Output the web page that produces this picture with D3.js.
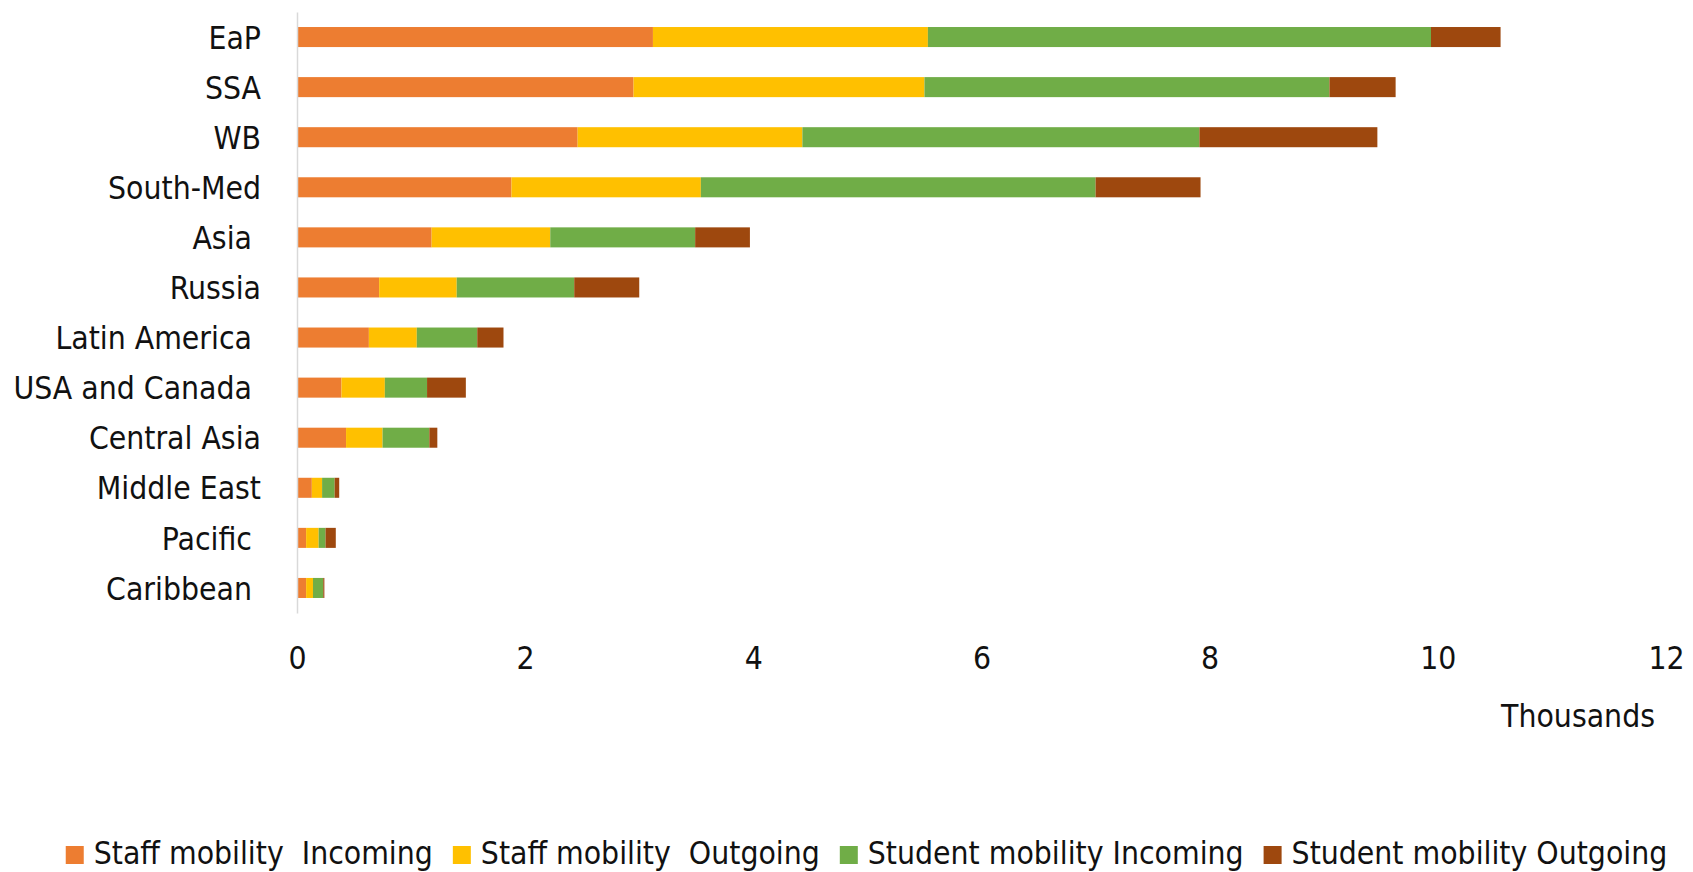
<!DOCTYPE html>
<html>
<head>
<meta charset="utf-8">
<script src="https://cdn.jsdelivr.net/npm/d3@7"></script>
<style>
  html, body { margin: 0; padding: 0; background: #fff; }
  svg text { font-family: 'DejaVu Sans Condensed', 'DejaVu Sans', sans-serif; fill: #111; white-space: pre; }
</style>
</head>
<body>
<svg id="chart" width="1693" height="872"></svg>
<script>
// regions, top to bottom (trailing spaces are in the source labels)
const regions = ['EaP', 'SSA', 'WB', 'South-Med', 'Asia ', 'Russia', 'Latin America ',
  'USA and Canada ', 'Central Asia', 'Middle East', 'Pacific ', 'Caribbean '];

// values in thousands
const staffIncoming = [3.12, 2.95, 2.46, 1.88, 1.18, 0.72, 0.63, 0.39, 0.43, 0.13, 0.08, 0.08];
const staffOutgoing = [2.41, 2.55, 1.97, 1.66, 1.04, 0.68, 0.42, 0.38, 0.32, 0.09, 0.11, 0.06];
const studentIncoming = [4.41, 3.55, 3.48, 3.46, 1.27, 1.03, 0.53, 0.37, 0.41, 0.11, 0.06, 0.09];
const studentOutgoing = [0.61, 0.58, 1.56, 0.92, 0.48, 0.57, 0.23, 0.34, 0.07, 0.04, 0.09, 0.01];

const seriesNames = ['Staff mobility  Incoming', 'Staff mobility  Outgoing',
  'Student mobility Incoming', 'Student mobility Outgoing'];
const seriesColors = ['#ED7D31', '#FFC000', '#70AD47', '#9E480E'];
const xTicks = [0, 2, 4, 6, 8, 10, 12];

const rows = regions.map((region, i) => ({
  region,
  s0: staffIncoming[i],
  s1: staffOutgoing[i],
  s2: studentIncoming[i],
  s3: studentOutgoing[i],
}));
const stack = d3.stack().keys(['s0', 's1', 's2', 's3'])(rows);

const svg = d3.select('#chart');
const fontSize = 31.6;

const x = d3.scaleLinear().domain([0, 12]).range([297, 1666]);
const y = d3.scaleBand()
  .domain(regions)
  .range([12, 613])
  .paddingInner(0.6)
  .paddingOuter(0.3);

// bars
svg.append('g')
  .selectAll('g')
  .data(stack)
  .join('g')
  .attr('fill', (d, i) => seriesColors[i])
  .selectAll('rect')
  .data((d) => d)
  .join('rect')
  .attr('x', (d) => x(d[0]))
  .attr('y', (d) => y(d.data.region))
  .attr('width', (d) => Math.max(0, x(d[1]) - x(d[0])))
  .attr('height', y.bandwidth());

// category axis
const yAxis = svg.append('g')
  .attr('transform', `translate(${x(0)},0)`)
  .call(d3.axisLeft(y).tickSize(0).tickSizeOuter(0).tickPadding(36));
yAxis.select('.domain').attr('stroke', '#d9d9d9').attr('stroke-width', 1.5);
yAxis.selectAll('text')
  .attr('font-size', fontSize)
  .attr('font-family', null)
  .attr('dy', '0.37em');

// value axis
const xAxis = svg.append('g')
  .attr('transform', 'translate(0,613)')
  .call(d3.axisBottom(x).tickValues(xTicks).tickSize(0).tickPadding(34));
xAxis.select('.domain').remove();
xAxis.selectAll('text')
  .attr('font-size', fontSize)
  .attr('font-family', null);

svg.append('text')
  .attr('x', 1655)
  .attr('y', 727)
  .attr('text-anchor', 'end')
  .attr('font-size', fontSize)
  .text('Thousands');

// legend
const legend = svg.append('g').attr('class', 'legend');
const sq = 18;
const gapText = 10;
const gapItem = 20;
let cursor = 0;
seriesNames.forEach((name, i) => {
  const item = legend.append('g').attr('transform', `translate(${cursor},0)`);
  item.append('rect')
    .attr('x', 0)
    .attr('y', -sq)
    .attr('width', sq)
    .attr('height', sq)
    .attr('fill', seriesColors[i]);
  const t = item.append('text')
    .attr('x', sq + gapText)
    .attr('y', 0)
    .attr('font-size', fontSize)
    .text(name);
  cursor += sq + gapText + t.node().getComputedTextLength() + gapItem;
});
const legendWidth = cursor - gapItem;
legend.attr('transform', `translate(${(67 + 1666) / 2 - legendWidth / 2},864)`);
</script>
</body>
</html>
